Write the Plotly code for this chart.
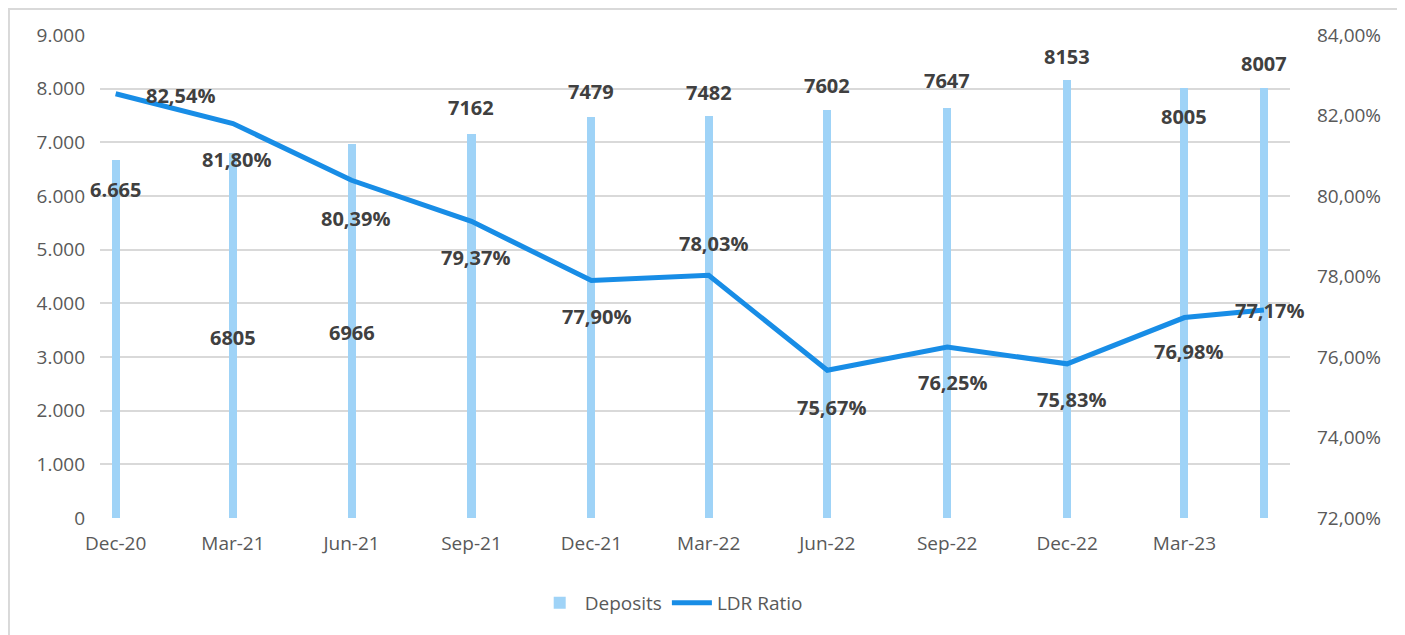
import plotly.graph_objects as go

# quarter-end dates (last point is end of May 2023, no tick label)
dates = ["2020-12-31", "2021-03-31", "2021-06-30", "2021-09-30", "2021-12-31",
         "2022-03-31", "2022-06-30", "2022-09-30", "2022-12-31", "2023-03-31",
         "2023-05-31"]
tick_labels = ["Dec-20", "Mar-21", "Jun-21", "Sep-21", "Dec-21", "Mar-22",
               "Jun-22", "Sep-22", "Dec-22", "Mar-23"]
deposits = [6665, 6805, 6966, 7162, 7479, 7482, 7602, 7647, 8153, 8005, 8007]
ldr_ratio = [82.54, 81.80, 80.39, 79.37, 77.90, 78.03, 75.67, 76.25, 75.83, 76.98, 77.17]

# hand placed label offsets (pixels), like the excel original
deposit_shift = [(0, -29), (0, -185), (0, -188), (0, 26), (0, 25), (0, 24),
                 (0, 25), (0, 27), (0, 24), (0, -28), (0, 25)]
ldr_shift = [(65, -2), (4, -36), (4, -38), (4, -36), (5, -36), (5, 32),
             (4, -37), (5, -36), (4, -36), (4, -34), (6, -1)]

FONT = "Open Sans"
GREY = "#595959"
DARK = "#404040"
BAR_COLOR = "#9FD3F7"
LINE_COLOR = "#188DE6"

deposit_text = [str(v) for v in deposits]
deposit_text[0] = "6.665"
ldr_text = [f"{v:.2f}".replace(".", ",") + "%" for v in ldr_ratio]
ldr_frac = [v / 100 for v in ldr_ratio]

fig = go.Figure()
fig.add_trace(go.Bar(
    x=dates, y=deposits, name="Deposits", marker=dict(color=BAR_COLOR, line_width=0),
    width=6.2 * 86400000, yaxis="y"
))
fig.add_trace(go.Scatter(
    x=dates, y=ldr_frac, name="LDR Ratio", mode="lines",
    line=dict(color=LINE_COLOR, width=5), yaxis="y2"
))

annotations = []
for d, v, t, (dx, dy) in zip(dates, deposits, deposit_text, deposit_shift):
    annotations.append(dict(x=d, y=v, xref="x", yref="y", text=t, showarrow=False,
                            xshift=dx, yshift=dy,
                            font=dict(family=FONT, size=20, color=DARK, weight="bold")))
for d, v, t, (dx, dy) in zip(dates, ldr_frac, ldr_text, ldr_shift):
    annotations.append(dict(x=d, y=v, xref="x", yref="y2", text=t, showarrow=False,
                            xshift=dx, yshift=dy,
                            font=dict(family=FONT, size=20, color=DARK, weight="bold")))

# page body adds 8px, so the figure is 8px smaller and margins shifted
fig.update_layout(
    width=1397, height=627,
    margin=dict(l=92, r=115, t=27, b=117),
    paper_bgcolor="white", plot_bgcolor="white",
    separators=",.",
    font=dict(family=FONT, size=19, color=GREY),
    bargap=0,
    showlegend=True,
    legend=dict(orientation="h", x=0.48, xanchor="center", y=-0.176, yanchor="middle",
                font=dict(size=19, color=GREY), itemwidth=40),
    annotations=annotations,
    shapes=[dict(type="rect", xref="paper", yref="paper",
                 x0=-0.0765, x1=1.0933, y0=-0.26, y1=1.0538,
                 line=dict(color="#D9D9D9", width=2), fillcolor="rgba(0,0,0,0)",
                 layer="below")],
    xaxis=dict(type="date", range=["2020-12-19", "2023-06-20"],
               tickvals=dates[:len(tick_labels)], ticktext=tick_labels,
               showgrid=False, zeroline=False, showline=False, ticks="",
               ticklabelstandoff=12, tickfont=dict(size=19, color=GREY)),
    yaxis=dict(range=[0, 9000], dtick=1000, tickformat=",d",
               gridcolor="#D9D9D9", gridwidth=1.5, zeroline=False,
               showline=False, ticks="", ticklabelstandoff=14,
               tickfont=dict(size=19, color=GREY)),
    yaxis2=dict(range=[0.72, 0.84], dtick=0.02, tickformat=".2%",
                overlaying="y", side="right", showgrid=False, zeroline=False,
                showline=False, ticks="", ticklabelstandoff=26,
                tickfont=dict(size=19, color=GREY)),
)

fig.write_html("out.html")
